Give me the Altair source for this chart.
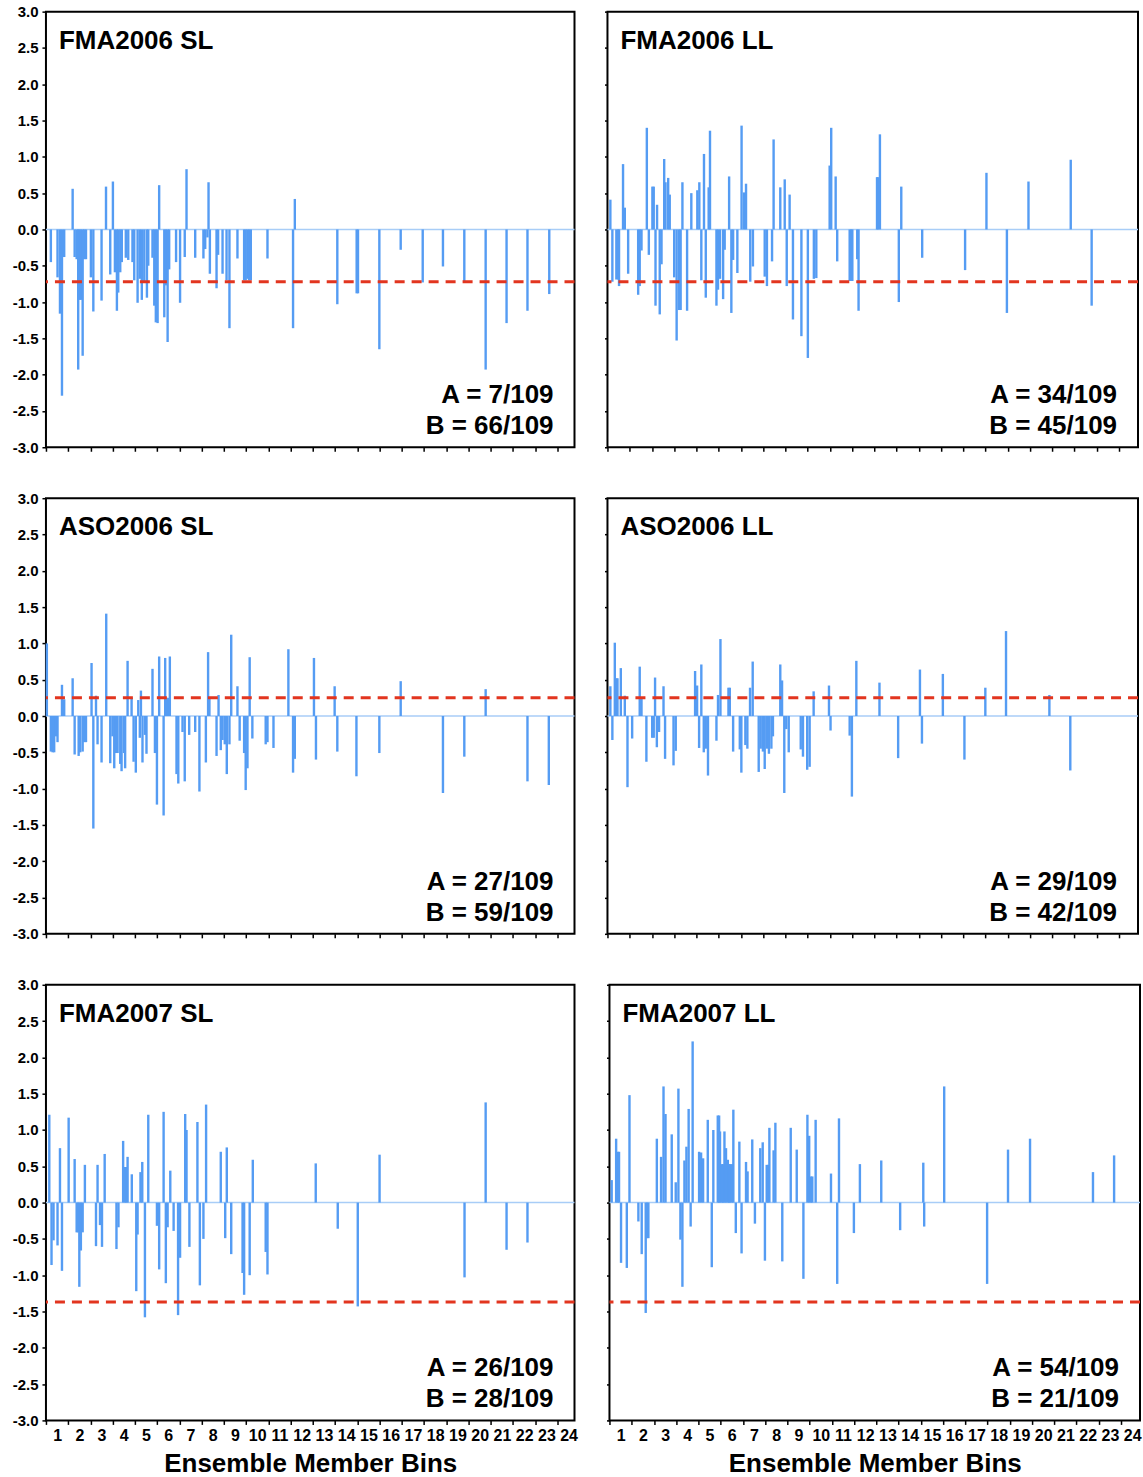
import altair as alt
import pandas as pd

FONT = "Liberation Sans"
BAR = "#559cf3"
BASE = "#a8cdf7"
RED = "#e2351f"

# ---- data: (bin position, anomaly value) for each panel ----
FMA2006_SL = [(0.72,-0.45),(1.02,-0.66),(1.13,-1.16),(1.22,-2.29),(1.32,-0.38),(1.70,0.56),(1.79,-0.38),(1.88,-0.41),
 (1.95,-1.93),(2.00,-0.97),(2.07,-0.97),(2.15,-1.74),(2.22,-0.41),(2.30,-0.41),(2.52,-0.66),(2.63,-1.13),(3.00,-0.98),
 (3.20,0.59),(3.39,-0.62),(3.51,0.66),(3.60,-0.59),(3.69,-1.12),(3.75,-0.87),(3.84,-0.59),(3.91,-0.45),(4.09,-0.39),
 (4.20,-0.42),(4.39,-0.45),(4.47,-0.70),(4.62,-1.01),(4.72,-0.68),(4.81,-0.97),(4.92,-0.71),(5.04,-0.94),(5.10,-0.50),
 (5.29,-0.39),(5.37,-1.05),(5.44,-1.28),(5.52,-1.29),(5.59,0.61),(5.82,-1.21),(5.89,-0.77),(5.97,-1.55),(6.04,-0.55),
 (6.35,-0.45),(6.53,-1.01),(6.74,-0.38),(6.82,0.83),(7.21,-0.39),(7.58,-0.40),(7.66,-0.27),(7.76,-0.11),(7.81,0.65),
 (7.87,-0.61),(8.17,-0.81),(8.24,-0.35),(8.44,-0.61),(8.62,-0.70),(8.75,-1.36),(9.11,-0.40),(9.41,-0.70),(9.48,-0.70),
 (9.56,-0.68),(9.63,-0.70),(9.71,-0.70),(10.46,-0.40),(11.61,-1.36),(11.69,0.42),(13.60,-1.03),(14.47,-0.88),
 (14.53,-0.88),(15.49,-1.65),(16.45,-0.28),(17.44,-0.73),(18.35,-0.51),(19.31,-0.73),(20.27,-1.93),(21.21,-1.29),
 (22.15,-1.12),(23.13,-0.89)]

FMA2006_LL = [(0.63,0.41),(0.72,-0.72),(0.90,-0.69),(0.98,-0.69),(1.02,-0.78),(1.20,0.90),(1.28,0.30),(1.43,-0.61),
 (1.88,-0.90),(1.95,-0.78),(2.03,-0.29),(2.27,1.40),(2.36,-0.35),(2.52,0.59),(2.58,0.59),(2.66,-1.05),(2.73,0.34),
 (2.85,-1.17),(2.93,-0.48),(3.05,0.97),(3.11,0.65),(3.23,0.71),(3.30,0.48),(3.50,-0.66),(3.61,-1.53),(3.72,-1.11),
 (3.79,-1.11),(3.87,0.65),(4.08,-1.12),(4.27,0.50),(4.54,0.54),(4.63,0.65),(4.72,-0.70),(4.84,1.04),(4.92,-0.94),
 (5.05,0.58),(5.11,1.36),(5.40,-1.05),(5.47,-0.83),(5.56,-0.68),(5.70,-0.96),(5.77,-0.28),(5.97,0.73),(6.07,-1.15),
 (6.15,-0.42),(6.34,-0.60),(6.53,1.43),(6.64,0.51),(6.73,0.63),(6.92,-0.72),(7.04,-0.51),(7.57,-0.65),(7.67,-0.78),
 (7.90,-0.44),(7.97,1.24),(8.27,0.58),(8.47,0.69),(8.56,-0.78),(8.69,0.48),(8.84,-1.24),(9.22,-1.47),(9.51,-1.77),
 (9.78,-0.68),(9.89,-0.67),(10.49,0.88),(10.56,1.40),(10.76,0.73),(10.83,-0.44),(11.39,-0.71),(11.46,-0.71),
 (11.51,-0.71),(11.73,-0.41),(11.79,-1.12),(12.62,0.72),(12.66,0.72),(12.75,1.31),(13.60,-1.00),(13.71,0.59),
 (14.65,-0.39),(16.58,-0.56),(17.54,0.78),(18.46,-1.15),(19.43,0.66),(21.33,0.96),(22.27,-1.05)]

ASO2006_SL = [(0.54,1.00),(0.72,-0.49),(0.80,-0.50),(0.87,-0.50),(0.95,-0.28),(1.02,-0.36),(1.22,0.43),(1.32,0.23),
 (1.70,0.52),(1.79,-0.53),(1.97,-0.55),(2.04,-0.50),(2.15,-0.49),(2.22,-0.36),(2.30,-0.36),(2.55,0.73),(2.63,-1.55),
 (2.75,0.28),(2.82,-0.39),(3.00,-0.64),(3.21,1.41),(3.39,-0.65),(3.49,-0.28),(3.57,-0.72),(3.64,-0.51),(3.72,-0.51),
 (3.84,-0.66),(3.90,-0.76),(4.01,-0.51),(4.06,-0.72),(4.17,0.76),(4.35,0.25),(4.44,-0.63),(4.54,-0.78),(4.65,0.22),
 (4.72,-0.30),(4.77,0.35),(4.84,-0.64),(4.95,-0.26),(5.02,-0.52),(5.29,0.65),(5.40,-0.51),(5.49,-1.22),(5.59,0.82),
 (5.79,-1.37),(5.86,0.80),(5.91,0.25),(5.95,0.25),(6.00,0.25),(6.07,0.82),(6.37,-0.80),(6.45,-0.93),(6.64,-0.22),
 (6.74,-0.90),(6.94,-0.26),(7.21,-0.22),(7.40,-1.04),(7.69,-0.64),(7.79,0.88),(7.85,0.26),(8.17,-0.55),(8.26,0.29),
 (8.36,-0.47),(8.44,-0.33),(8.54,-0.39),(8.63,-0.80),(8.75,-0.39),(8.83,1.12),(9.11,0.41),(9.21,-0.34),(9.41,-0.51),
 (9.48,-1.02),(9.56,-0.72),(9.66,0.81),(9.78,-0.31),(10.38,-0.39),(10.46,-0.36),(10.73,-0.44),(11.40,0.92),
 (11.61,-0.78),(11.69,-0.59),(12.55,0.80),(12.64,-0.60),(13.48,0.41),(13.60,-0.49),(14.46,-0.83),(15.49,-0.51),
 (16.45,0.48),(18.35,-1.06),(19.31,-0.56),(20.27,0.37),(22.15,-0.90),(23.11,-0.95)]

ASO2006_LL = [(0.63,0.41),(0.72,-0.33),(0.83,1.01),(0.90,0.52),(0.95,0.52),(1.10,0.66),(1.28,0.28),(1.40,-0.98),
 (1.61,-0.31),(1.95,0.68),(2.03,0.24),(2.25,-0.63),(2.51,-0.30),(2.58,-0.30),(2.64,0.53),(2.72,-0.43),(2.82,-0.22),
 (3.02,0.41),(3.09,-0.59),(3.47,-0.68),(3.57,-0.48),(4.44,0.62),(4.53,0.42),(4.62,-0.44),(4.72,0.71),(4.83,-0.50),
 (4.92,-0.45),(5.02,-0.82),(5.40,-0.34),(5.47,0.29),(5.58,1.06),(5.94,0.39),(6.00,0.39),(6.15,-0.49),(6.45,-0.46),
 (6.52,-0.78),(6.70,-0.40),(6.79,-0.45),(6.91,0.39),(7.03,0.75),(7.30,-0.77),(7.39,-0.45),(7.49,-0.49),(7.57,-0.73),
 (7.67,-0.45),(7.76,-0.52),(7.87,-0.45),(7.94,-0.28),(8.27,0.71),(8.35,0.49),(8.45,-1.06),(8.54,-0.18),(8.65,-0.50),
 (9.19,-0.46),(9.29,-0.56),(9.48,-0.74),(9.59,-0.70),(9.77,0.34),(10.46,0.42),(10.53,-0.20),(11.39,-0.27),
 (11.49,-1.11),(11.69,0.76),(12.73,0.46),(13.57,-0.58),(14.55,0.64),(14.64,-0.38),(15.58,0.58),(16.55,-0.60),
 (17.49,0.39),(18.42,1.17),(20.37,0.29),(21.31,-0.75)]

FMA2007_SL = [(0.65,1.21),(0.75,-0.86),(0.84,-0.52),(1.02,-0.59),(1.13,0.75),(1.22,-0.94),(1.52,1.17),(1.79,0.60),
 (1.88,-0.41),(1.94,-0.41),(2.00,-1.16),(2.07,-0.66),(2.15,-0.41),(2.25,0.52),(2.75,-0.60),(2.82,0.52),(2.93,-0.31),
 (3.02,-0.61),(3.14,0.67),(3.67,-0.64),(3.76,-0.34),(3.97,0.85),(4.05,0.49),(4.11,0.49),(4.17,0.63),(4.36,0.39),
 (4.56,-1.22),(4.62,-0.44),(4.75,0.42),(4.83,0.56),(4.95,-1.58),(5.10,1.21),(5.49,-0.32),(5.59,-0.92),(5.79,1.25),
 (5.89,-1.11),(5.97,-0.34),(6.09,0.44),(6.24,-0.39),(6.44,-1.55),(6.53,-0.76),(6.76,1.22),(6.82,1.00),(6.95,-0.61),
 (7.31,1.11),(7.42,-1.14),(7.58,-0.50),(7.70,1.35),(8.36,0.70),(8.56,-0.49),(8.63,0.76),(8.83,-0.71),(9.34,-0.97),
 (9.41,-1.27),(9.66,-1.00),(9.80,0.59),(10.38,-0.68),(10.46,-0.99),(12.63,0.54),(13.62,-0.36),(14.52,-1.43),
 (15.50,0.66),(19.32,-1.03),(20.27,1.38),(21.21,-0.65),(22.15,-0.55)]

FMA2007_LL = [(0.60,0.31),(0.80,0.88),(0.87,0.70),(0.93,0.70),(1.02,-0.83),(1.28,-0.90),(1.40,1.48),(1.80,-0.26),
 (1.95,-0.71),(2.13,-1.52),(2.19,-0.49),(2.25,-0.49),(2.63,0.88),(2.82,0.63),(2.93,1.60),(3.02,1.22),(3.30,0.94),
 (3.48,0.28),(3.60,1.57),(3.69,-0.51),(3.78,-1.16),(3.87,0.58),(3.96,0.77),(4.06,1.29),(4.15,-0.33),(4.24,2.22),
 (4.53,0.70),(4.62,0.69),(4.71,0.61),(4.92,1.14),(5.10,-0.89),(5.17,1.00),(5.37,1.20),(5.43,1.20),(5.47,0.98),
 (5.55,0.53),(5.61,0.53),(5.67,0.98),(5.74,0.75),(5.82,0.59),(5.88,0.53),(5.92,0.53),(6.00,0.53),(6.07,1.28),
 (6.18,-0.42),(6.34,0.84),(6.44,-0.70),(6.64,0.56),(6.71,0.43),(6.92,0.87),(7.04,-0.29),(7.28,0.75),(7.39,0.83),
 (7.49,-0.80),(7.57,0.52),(7.63,0.52),(7.69,1.03),(7.88,0.72),(7.96,1.10),(8.27,-0.81),(8.65,1.03),(8.92,0.73),
 (9.22,-1.05),(9.40,1.21),(9.48,0.92),(9.56,0.36),(9.62,0.36),(9.77,1.14),(10.46,0.40),(10.74,-1.12),(10.82,1.16),
 (11.49,-0.42),(11.76,0.53),(12.72,0.58),(13.57,-0.38),(14.61,0.55),(14.65,-0.33),(15.55,1.60),(17.48,-1.12),
 (18.42,0.73),(19.41,0.88),(22.24,0.42),(23.19,0.65)]

TITLES = ["FMA2006 SL", "FMA2006 LL", "ASO2006 SL", "ASO2006 LL", "FMA2007 SL", "FMA2007 LL"]
A_TEXT = ["A = 7/109", "A = 34/109", "A = 27/109", "A = 29/109", "A = 26/109", "A = 54/109"]
B_TEXT = ["B = 66/109", "B = 45/109", "B = 59/109", "B = 42/109", "B = 28/109", "B = 21/109"]
THRESH = [-0.72, -0.72, 0.25, 0.25, -1.37, -1.37]
SERIES = [FMA2006_SL, FMA2006_LL, ASO2006_SL, ASO2006_LL, FMA2007_SL, FMA2007_LL]

Y_TICKS = [-3.0, -2.5, -2.0, -1.5, -1.0, -0.5, 0.0, 0.5, 1.0, 1.5, 2.0, 2.5, 3.0]
BIN_EDGES = [0.5 + i for i in range(24)]
X_TITLE = "Ensemble Member Bins"

H = 436


def make_panel(i):
    left = (i % 2 == 0)
    bottom = (i >= 4)
    width = 529 if left else 531
    xmax = 0.5 + width / 22.26
    df = pd.DataFrame(SERIES[i], columns=["x", "v"])
    df["z"] = 0.0

    ys = alt.Scale(domain=[-3, 3], nice=False, zero=False)
    xs = alt.Scale(domain=[0.5, xmax], nice=False, zero=False)

    y_axis = alt.Axis(values=Y_TICKS, labels=left, tickSize=4 if left else 3, domain=False, grid=False,
                      title=None, labelFont=FONT, labelFontSize=15, labelFontWeight="bold",
                      labelColor="black", tickColor="black", tickWidth=1.5, labelPadding=4,
                      labelExpr="(datum.value < 0 ? '-' : '') + format(abs(datum.value), '.1f')")
    xkw = dict(values=BIN_EDGES, labels=bottom, labelExpr="format(datum.value + 0.5, 'd')",
               labelOffset=11.13, labelFlush=False, labelOverlap=False, tickSize=4, tickColor="black",
               tickWidth=1.5, domain=False, grid=False, labelFont=FONT, labelFontSize=16,
               labelFontWeight="bold", labelColor="black", labelPadding=3)
    if bottom:
        xkw.update(title=X_TITLE, titleFont=FONT, titleFontSize=26, titleFontWeight="bold",
                   titleColor="black", titlePadding=7)
    else:
        xkw.update(title=None)
    x_axis = alt.Axis(**xkw)

    def yenc():
        return alt.Y("v:Q", scale=ys, axis=y_axis)

    base = alt.Chart(pd.DataFrame({"v": [0.0]})).mark_rule(color=BASE, strokeWidth=1.5).encode(y=yenc())
    bars = alt.Chart(df).mark_rule(color=BAR, strokeWidth=2.4).encode(
        x=alt.X("x:Q", scale=xs, axis=x_axis), y=yenc(), y2=alt.Y2("z:Q"))
    thr = alt.Chart(pd.DataFrame({"v": [THRESH[i]]})).mark_rule(
        color=RED, strokeWidth=3, strokeDash=[10, 7]).encode(y=yenc())

    txt = dict(font=FONT, fontSize=26, fontWeight="bold", color="black", baseline="alphabetic")
    t_title = alt.Chart(pd.DataFrame({"t": [TITLES[i]]})).mark_text(align="left", **txt).encode(
        text="t:N", x=alt.value(13), y=alt.value(37))
    t_a = alt.Chart(pd.DataFrame({"t": [A_TEXT[i]]})).mark_text(align="right", **txt).encode(
        text="t:N", x=alt.value(width - 21), y=alt.value(392))
    t_b = alt.Chart(pd.DataFrame({"t": [B_TEXT[i]]})).mark_text(align="right", **txt).encode(
        text="t:N", x=alt.value(width - 21), y=alt.value(423))

    return alt.layer(base, bars, thr, t_title, t_a, t_b).properties(width=width, height=H)


rows = [alt.hconcat(make_panel(2 * r), make_panel(2 * r + 1), spacing=25) for r in range(3)]
chart = alt.vconcat(*rows, spacing=34).properties(
    padding={"left": 11, "top": 3, "right": 0, "bottom": 0}
).configure_view(stroke="black", strokeWidth=2)

chart.save("out.html", embed_options={"renderer": "svg", "actions": False})
